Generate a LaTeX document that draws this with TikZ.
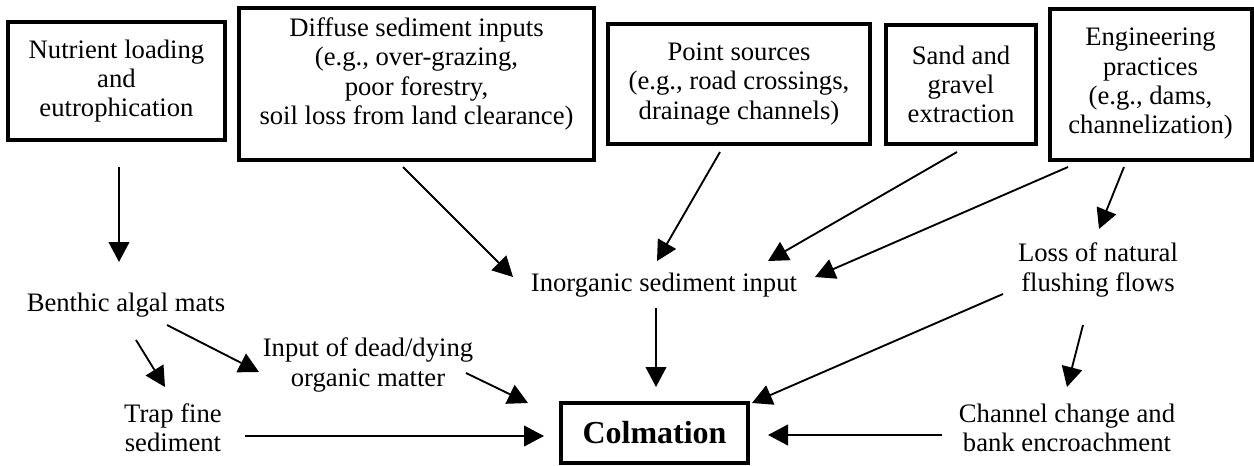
\documentclass[tikz,border=0pt]{standalone}
\usepackage{fontspec}
\setmainfont{Liberation Serif}
\usetikzlibrary{arrows.meta,calc}
\begin{document}
\begin{tikzpicture}[x=0.75pt,y=-0.75pt,
  boxst/.style={draw,line width=3pt,inner sep=0pt,outer sep=0pt},
  txt/.style={align=center,font=\fontsize{20}{22}\selectfont,inner sep=0pt,outer sep=0pt},
  arr/.style={line width=1.4pt,-{Triangle[length=15pt,width=15.5pt]}}]
\useasboundingbox (0,0) rectangle (1254,465);
% top boxes
\node[boxst,txt,minimum width=162.75pt,minimum height=88.5pt] (b1) at (116.5,81) {Nutrient loading\\and\\eutrophication};
\node[boxst,minimum width=266.25pt,minimum height=114pt] (b2) at (416.5,84) {};
\node[txt] (t2) at (416.5,74) {Diffuse sediment inputs\\(e.g., over-grazing,\\poor forestry,\\soil loss from land clearance)};
\node[boxst,txt,minimum width=196.9pt,minimum height=90pt] (b3) at (739,84) {Point sources\\(e.g., road crossings,\\drainage channels)};
\node[boxst,txt,minimum width=112.5pt,minimum height=89.6pt] (b4) at (961,84.5) {Sand and\\gravel\\extraction};
\node[boxst,txt,minimum width=151.5pt,minimum height=113.25pt] (b5) at (1150.5,84) {Engineering\\practices\\(e.g., dams,\\channelization)};
% middle texts
\node[txt] (ben) at (126,305) {Benthic algal mats};
\node[txt] (inorg) at (664,285) {Inorganic sediment input};
\node[txt] (loss) at (1098,270) {Loss of natural\\flushing flows};
\node[txt] (input) at (368,365) {Input of dead/dying\\organic matter};
\node[txt] (trap) at (173,428) {Trap fine\\sediment};
\node[txt] (chan) at (1067,428) {Channel change and\\bank encroachment};
\node[boxst,line width=2.4pt,font=\fontsize{24}{28}\selectfont\bfseries,minimum width=140.25pt,minimum height=45pt] (colm) at (654.5,433) {Colmation};
% arrows
\draw[arr] ($(b1)+(2.5,86)$) -- ($(ben)+(-7,-43)$);
\draw[arr] ($(b2)+(-13.5,83)$) -- ($(inorg)+(-151,-8)$);
\draw[arr] ($(b3)+(-19,68)$) -- ($(inorg)+(-7,-24)$);
\draw[arr] ($(b4)+(-4,67.5)$) -- ($(inorg)+(104,-24)$);
\draw[arr] ($(b5)+(-82.5,83)$) -- ($(inorg)+(151,-8)$);
\draw[arr] ($(b5)+(-26.5,83)$) -- ($(loss)+(1,-41)$);
\draw[arr] ($(ben)+(10,35)$) -- ($(trap)+(-8,-41)$);
\draw[arr] ($(ben)+(41,20)$) -- ($(input)+(-109,7)$);
\draw[arr] ($(input)+(98,8)$) -- ($(colm)+(-126.5,-30)$);
\draw[arr] ($(inorg)+(-8,23)$) -- ($(colm)+(1.5,-46)$);
\draw[arr] ($(loss)+(-95,24)$) -- ($(colm)+(97.5,-30)$);
\draw[arr] ($(loss)+(-15,55)$) -- ($(chan)+(0,-41)$);
\draw[arr] ($(trap)+(72,8)$) -- ($(colm)+(-110.5,3)$);
\draw[arr] ($(chan)+(-125,7)$) -- ($(colm)+(113.5,2)$);
\end{tikzpicture}
\end{document}
